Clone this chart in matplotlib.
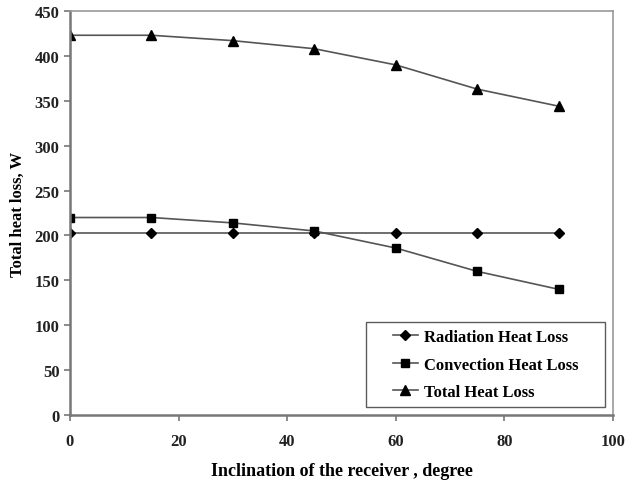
import matplotlib.pyplot as plt
from matplotlib.path import Path

# inclination angle (degree) and heat losses (W)
angle = [0, 15, 30, 45, 60, 75, 90]
radiation = [203, 203, 203, 203, 203, 203, 203]
convection = [220, 220, 214, 205, 186, 160, 140]
total = [423, 423, 417, 408, 390, 363, 344]

plt.rcParams['font.family'] = ['Liberation Serif']

fig = plt.figure(figsize=(6.27, 4.81), dpi=100)
ax = fig.add_axes([0.1116, 0.1351, 0.8661, 0.8399])

line_col = '#555555'
ax.plot(angle, radiation, color=line_col, lw=1.2, marker='D', ms=5,
        mfc='black', mec='black', label='Radiation Heat Loss')
ax.plot(angle, convection, color=line_col, lw=1.2, marker='s', ms=6,
        mfc='black', mec='black', label='Convection Heat Loss')
ax.plot(angle, total, color=line_col, lw=1.2, marker='^', ms=7,
        mfc='black', mec='black', label='Total Heat Loss')

ax.set_xlim(0, 100)
ax.set_ylim(0, 450)
ax.set_xticks(range(0, 101, 20))
ax.set_yticks(range(0, 451, 50))

for s in ax.spines.values():
    s.set_color('#999999')
    s.set_linewidth(1.2)
ax.spines['left'].set_color('#777777')
ax.spines['bottom'].set_color('#777777')
ax.spines['left'].set_linewidth(1.8)
ax.spines['bottom'].set_linewidth(1.8)
ax.tick_params(axis='both', direction='out', color='#777777', width=1.2,
               length=4, labelsize=12)
ax.tick_params(axis='x', pad=9)
for lab in ax.get_xticklabels() + ax.get_yticklabels():
    lab.set_fontweight('bold')
    lab.set_color('#222222')

ax.set_xlabel('Inclination of the receiver , degree', fontsize=13,
              fontweight='bold', labelpad=9)
ax.set_ylabel('Total heat loss, W', fontsize=12, fontweight='bold', labelpad=6)


# legend frame with extra room left and right (Excel style)
def wide_box(x0, y0, width, height, mutation_size):
    px = 1.2 * mutation_size
    x0 -= px
    x1 = x0 + width + 2 * px
    y1 = y0 + height
    return Path([(x0, y0), (x1, y0), (x1, y1), (x0, y1), (x0, y0)],
                closed=True)


leg = ax.legend(loc='lower right', bbox_to_anchor=(0.948, 0.02),
                borderaxespad=0, frameon=True, fancybox=False,
                edgecolor='#333333', borderpad=0.4, labelspacing=0.7,
                handlelength=1.5, handletextpad=0.35,
                prop={'weight': 'bold', 'size': 12})
leg.get_frame().set_linewidth(1.0)
leg.get_frame().set_boxstyle(wide_box)

fig.savefig('out.png', dpi=100)
